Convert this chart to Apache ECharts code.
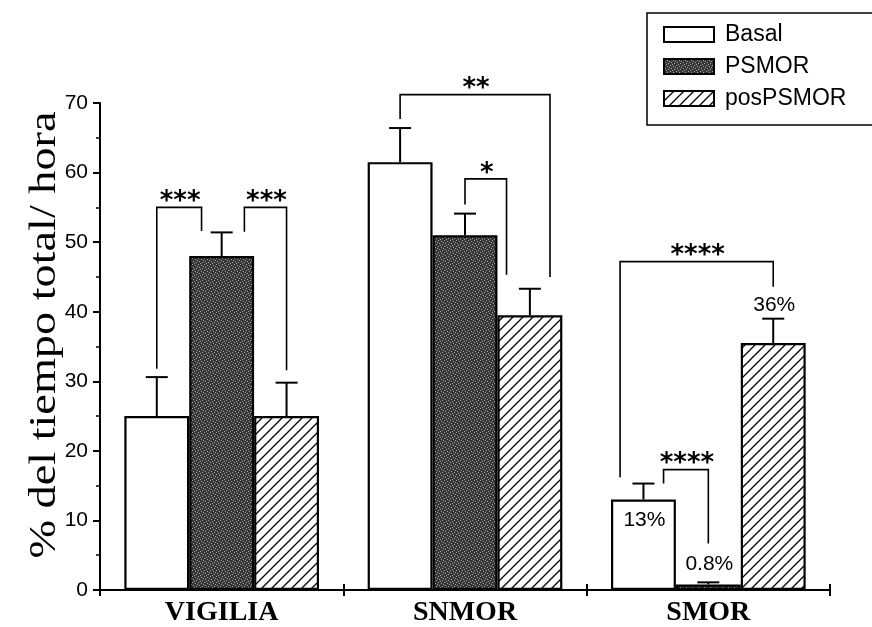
<!DOCTYPE html>
<html><head><meta charset="utf-8">
<script src="https://cdn.jsdelivr.net/npm/echarts@6/dist/echarts.min.js"></script>
<style>html,body{margin:0;padding:0;background:#fff}#c{width:872px;height:627px}</style>
</head><body><div id="c"></div>
<script>
// ---- data ----
const categories = ['VIGILIA', 'SNMOR', 'SMOR'];
const seriesNames = ['Basal', 'PSMOR', 'posPSMOR'];
const basal = [25, 61.5, 13];
const psmor = [48, 51, 0.8];
const posPsmor = [25, 39.5, 35.5];
const basalErr = [5.6, 4.9, 2.3];
const psmorErr = [3.4, 3.1, 0.3];
const posPsmorErr = [4.8, 3.8, 3.5];
const yMin = 0, yMax = 70, yStep = 10;
// significance brackets: category, left bar, right bar, bracket level, left leg end, right leg end, label
const brackets = [
  [0, 0, 1, 55, 31.8, 51.6, '***'],
  [0, 1, 2, 55, 51.5, 31.6, '***'],
  [1, 0, 2, 71.2, 67.7, 45, '**'],
  [1, 1, 2, 59.1, 55.4, 45.3, '*'],
  [2, 0, 2, 47.2, 16.2, 43.6, '****'],
  [2, 0, 1, 17.3, 15.3, 6.7, '****']
];
// value labels: category, bar, y level, text
const valueLabels = [
  [2, 0, 10, '13%'],
  [2, 1, 3.7, '0.8%'],
  [2, 2, 41, '36%']
];

// ---- layout (not data) ----
const bracketLegShift = [[0, -0.31], [0.35, 0], [0, 0.31], [0, -0.36], [-0.36, 0], [0.31, 0]];
const CAT_GAP = 0.2;

function makeStipple() {
  const c = document.createElement('canvas'); c.width = 6; c.height = 6;
  const g = c.getContext('2d');
  g.fillStyle = '#363636'; g.fillRect(0, 0, 6, 6);
  g.fillStyle = '#a8a8a8';
  [[0,0],[3,1],[1,3],[4,4],[5,2],[2,5]].forEach(p => g.fillRect(p[0], p[1], 1, 1));
  return c;
}
function makeHatch() {
  const s = 10; const c = document.createElement('canvas'); c.width = s; c.height = s;
  const g = c.getContext('2d');
  g.fillStyle = '#fff'; g.fillRect(0, 0, s, s);
  g.strokeStyle = '#000'; g.lineWidth = 1.3;
  g.beginPath();
  g.moveTo(-1, s + 1); g.lineTo(s + 1, -1);
  g.moveTo(-1, 1); g.lineTo(1, -1);
  g.moveTo(s - 1, s + 1); g.lineTo(s + 1, s - 1);
  g.stroke();
  return c;
}
const fills = ['#ffffff', {image: makeStipple(), repeat: 'repeat'}, {image: makeHatch(), repeat: 'repeat'}];
const values = [basal, psmor, posPsmor];
const errs = [basalErr, psmorErr, posPsmorErr];

function barCenter(api, cat, idx) {
  const c = api.coord([cat, 0]);
  const band = api.size([1, 0])[0];
  const avail = band * (1 - CAT_GAP);
  const bw = avail / 3;
  return {x: c[0] - avail / 2 + bw * (idx + 0.5), bw: bw};
}

const errData = [];
values.forEach((arr, s) => arr.forEach((v, i) => errData.push([i, s, v, errs[s][i]])));

const chart = echarts.init(document.getElementById('c'));
const option = {
  animation: false,
  backgroundColor: '#fff',
  grid: {left: 100, right: 42, top: 103, bottom: 35},
  legend: {
    data: seriesNames, orient: 'vertical', left: 647, top: 13,
    icon: 'rect', itemWidth: 50, itemHeight: 15, itemGap: 9,
    padding: [10, 40, 15, 16], borderColor: '#000', borderWidth: 1.5,
    textStyle: {fontFamily: 'Liberation Sans', fontSize: 23, color: '#000', lineHeight: 22, padding: [0, 0, 0, 6]}
  },
  xAxis: [{
    type: 'category', data: categories,
    axisLine: {lineStyle: {color: '#000', width: 2}},
    axisTick: {show: true, length: 6, lineStyle: {color: '#000', width: 2}},
    axisLabel: {color: '#000', fontFamily: 'Liberation Serif', fontWeight: 'bold', fontSize: 28, margin: 9}
  }, {
    type: 'category', data: categories, position: 'bottom',
    axisLine: {show: false},
    axisTick: {show: true, inside: true, length: 6, lineStyle: {color: '#000', width: 2}},
    axisLabel: {show: false}
  }],
  yAxis: {
    type: 'value', min: yMin, max: yMax, interval: yStep,
    axisLine: {show: true, lineStyle: {color: '#000', width: 2}},
    axisTick: {show: true, length: 7, lineStyle: {color: '#000', width: 2}},
    minorTick: {show: true, splitNumber: 2, length: 4, lineStyle: {color: '#000', width: 1.5}},
    splitLine: {show: false},
    axisLabel: {color: '#000', fontFamily: 'Liberation Sans', fontSize: 21, margin: 12}
  },
  graphic: [{
    type: 'text', x: 45, y: 335, rotation: Math.PI / 2, scaleX: 1.25,
    style: {text: '% del tiempo total/ hora', font: '37px "Liberation Serif"', fill: '#000',
      align: 'center', verticalAlign: 'middle', textAlign: 'center', textVerticalAlign: 'middle'}
  }],
  series: [
    ...seriesNames.map((n, s) => ({
      name: n, type: 'bar', data: values[s],
      barGap: '0%', barCategoryGap: (CAT_GAP * 100) + '%',
      itemStyle: {color: fills[s], borderColor: '#000', borderWidth: 2.2}
    })),
    {
      type: 'custom', name: 'err', z: 5, data: errData,
      renderItem: function (params, api) {
        const cat = api.value(0), idx = api.value(1), v = api.value(2), e = api.value(3);
        const b = barCenter(api, cat, idx);
        const top = api.coord([cat, v])[1], cap = api.coord([cat, v + e])[1];
        return {type: 'group', children: [
          {type: 'line', shape: {x1: b.x, y1: top, x2: b.x, y2: cap}, style: {stroke: '#000', lineWidth: 2}},
          {type: 'line', shape: {x1: b.x - 11, y1: cap, x2: b.x + 11, y2: cap}, style: {stroke: '#000', lineWidth: 2}}
        ]};
      }
    },
    {
      type: 'custom', name: 'brackets', z: 6, clip: false,
      data: brackets.map((b, i) => [b[0], i]),
      renderItem: function (params, api) {
        const i = params.dataIndex; const b = brackets[i]; const sh = bracketLegShift[i];
        const L = barCenter(api, b[0], b[1]), R = barCenter(api, b[0], b[2]);
        const xl = L.x + sh[0] * L.bw, xr = R.x + sh[1] * R.bw;
        const yt = api.coord([b[0], b[3]])[1];
        const yl = api.coord([b[0], b[4]])[1];
        const yr = api.coord([b[0], b[5]])[1];
        return {type: 'group', children: [
          {type: 'polyline', shape: {points: [[xl, yl], [xl, yt], [xr, yt], [xr, yr]]},
            style: {stroke: '#000', lineWidth: 1.6, fill: null}},
          {type: 'text', x: (xl + xr) / 2 + 1, y: yt + 8,
            style: {text: b[6], font: 'bold 26px "DejaVu Sans"', fill: '#000', align: 'center', verticalAlign: 'bottom'}}
        ]};
      }
    },
    {
      type: 'custom', name: 'vlabels', z: 7, clip: false,
      data: valueLabels.map((l, i) => [l[0], i]),
      renderItem: function (params, api) {
        const l = valueLabels[params.dataIndex];
        const b = barCenter(api, l[0], l[1]);
        const y = api.coord([l[0], l[2]])[1];
        return {type: 'text', x: b.x + 1, y: y,
          style: {text: l[3], font: '21px "Liberation Sans"', fill: '#000', align: 'center', verticalAlign: 'middle'}};
      }
    }
  ]
};
chart.setOption(option);
</script>
</body></html>
